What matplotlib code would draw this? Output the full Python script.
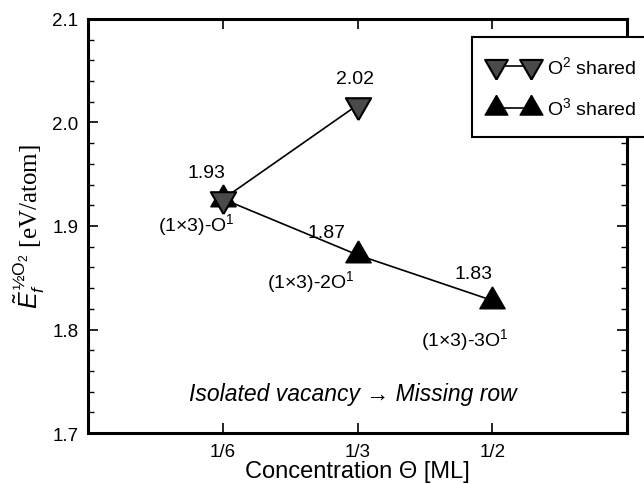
import numpy as np
import matplotlib
matplotlib.use('Agg')
from matplotlib import pyplot as plt
from matplotlib.ticker import MultipleLocator

plt.rcParams['font.family'] = ['Liberation Sans', 'DejaVu Sans']
plt.rcParams['mathtext.fontset'] = 'custom'
plt.rcParams['mathtext.rm'] = 'Liberation Sans'
plt.rcParams['mathtext.it'] = 'Liberation Sans:italic'

# coverage in ML and formation energy per atom
theta_o2 = [1/6, 1/3]
e_o2 = [1.926, 2.017]
theta_o3 = [1/6, 1/3, 1/2]
e_o3 = [1.926, 1.872, 1.828]
xtick_vals = [1/6, 1/3, 1/2]
xtick_labels = ['1/6', '1/3', '1/2']
struct_labels = ['(1\u00d73)-O$^1$', '(1\u00d73)-2O$^1$', '(1\u00d73)-3O$^1$']

# triangles centred on their centroid so the two at 1/6 overlap into a star
tri_up = [(0, 1), (-0.866, -0.5), (0.866, -0.5), (0, 1)]
tri_dn = [(0, -1), (-0.866, 0.5), (0.866, 0.5), (0, -1)]

fig = plt.figure(figsize=(6.44, 4.85), dpi=100)
ax = fig.add_axes([0.137, 0.105, 0.837, 0.854])

ax.plot(theta_o3, e_o3, color='black', lw=1.2, marker=tri_up, ms=21,
        mfc='black', mec='black', label='O$^3$ shared', zorder=3)
ax.plot(theta_o2, e_o2, color='black', lw=1.2, marker=tri_dn, ms=21,
        mfc='#4a4a4a', mec='black', mew=1.5, label='O$^2$ shared', zorder=4)

fs = 14
# energy values above each point
ax.text(theta_o3[0] + 0.0025, e_o3[0] + 0.026, '%.2f' % e_o3[0], ha='right', va='center', fontsize=fs)
ax.text(theta_o2[1] - 0.004, e_o2[1] + 0.025, '%.2f' % e_o2[1], ha='center', va='center', fontsize=fs)
ax.text(theta_o3[1] - 0.015, e_o3[1] + 0.022, '%.2f' % e_o3[1], ha='right', va='center', fontsize=fs)
ax.text(theta_o3[2], e_o3[2] + 0.026, '%.2f' % e_o3[2], ha='right', va='center', fontsize=fs)

# structure names below each point
ax.text(theta_o3[0] + 0.015, e_o3[0] - 0.024, struct_labels[0], ha='right', va='center', fontsize=fs)
ax.text(theta_o3[1] - 0.004, e_o3[1] - 0.025, struct_labels[1], ha='right', va='center', fontsize=fs)
ax.text(theta_o3[2] + 0.02, e_o3[2] - 0.037, struct_labels[2], ha='right', va='center', fontsize=fs)

ax.text(0.327, 1.738, 'Isolated vacancy \u2192 Missing row', ha='center', va='center',
        fontsize=16.5, style='italic')

ax.set_xlim(0, 2/3)
ax.set_ylim(1.7, 2.1)
ax.set_xticks(xtick_vals)
ax.set_xticklabels(xtick_labels)
ax.yaxis.set_major_locator(MultipleLocator(0.1))
ax.yaxis.set_minor_locator(MultipleLocator(0.02))
ax.tick_params(which='both', direction='in', top=True, right=True, labelsize=13.5, pad=7)
ax.tick_params(which='major', length=7, width=1.2)
ax.tick_params(which='minor', length=4, width=1.0)
for s in ax.spines.values():
    s.set_linewidth(2.2)

ax.set_xlabel('Concentration \u0398 [ML]', fontsize=17, labelpad=0)
ax.set_ylabel('$\\tilde{E}_f^{\\,½\\mathrm{O}_2}$ [eV/atom]', fontsize=18,
              family=['Liberation Serif', 'DejaVu Serif'], labelpad=4)

handles, labels = ax.get_legend_handles_labels()
leg = fig.legend(handles[::-1], labels[::-1], loc='upper left', bbox_to_anchor=(0.733, 0.922),
                 numpoints=2, fontsize=14, fancybox=False, edgecolor='black', framealpha=1,
                 handlelength=2.4, markerscale=0.9, borderpad=0.95, labelspacing=1.0,
                 handletextpad=0.5, borderaxespad=0)
leg.get_frame().set_linewidth(1.5)

fig.savefig('out.png', dpi=100)
plt.close()
